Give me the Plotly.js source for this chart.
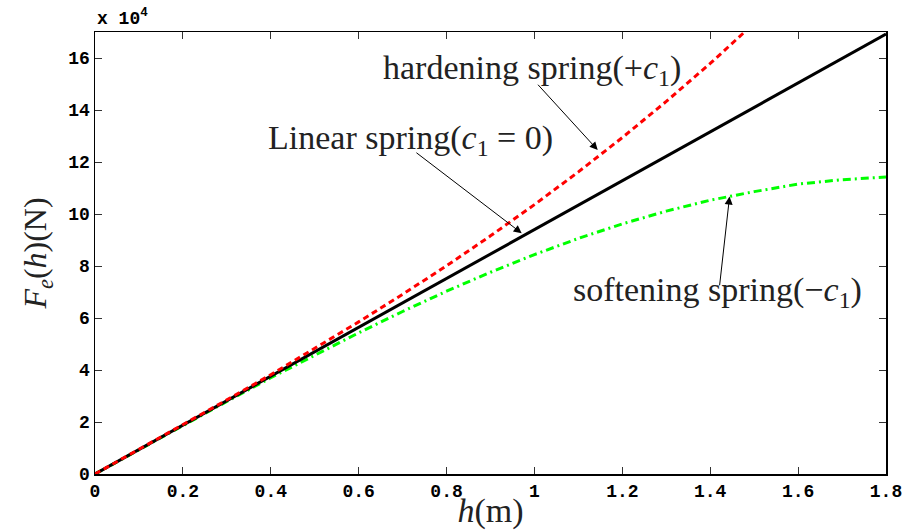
<!DOCTYPE html>
<html>
<head>
<meta charset="utf-8">
<script src="https://cdn.plot.ly/plotly-3.0.1.min.js"></script>
<style>html,body{margin:0;padding:0;background:#fff;}#chart{width:903px;height:530px;}</style>
</head>
<body>
<div id="chart"></div>
<script>
// displacement h (m)
const h = [0, 0.1, 0.2, 0.3, 0.4, 0.5, 0.6, 0.7, 0.8, 0.9, 1.0, 1.1, 1.2, 1.3, 1.4, 1.5, 1.6, 1.7, 1.8];
// force in units of 10^4 N
const linearF = [0, 0.94, 1.88, 2.82, 3.76, 4.70, 5.64, 6.58, 7.52, 8.46, 9.40, 10.34, 11.28, 12.22, 13.16, 14.10, 15.04, 15.98, 16.92];
const hardH = [0, 0.1, 0.2, 0.3, 0.4, 0.5, 0.6, 0.7, 0.8, 0.9, 1.0, 1.1, 1.2, 1.3, 1.4, 1.5];
const hardeningF = [0, 0.94, 1.89, 2.85, 3.82, 4.82, 5.85, 6.91, 8.01, 9.16, 10.36, 11.62, 12.94, 14.33, 15.79, 17.34];
const softeningF = [0, 0.94, 1.87, 2.79, 3.70, 4.58, 5.43, 6.25, 7.03, 7.76, 8.44, 9.06, 9.62, 10.11, 10.53, 10.86, 11.15, 11.32, 11.42];
const xTicks = [0, 0.2, 0.4, 0.6, 0.8, 1, 1.2, 1.4, 1.6, 1.8];
const xTickText = ['0', '0.2', '0.4', '0.6', '0.8', '1', '1.2', '1.4', '1.6', '1.8'];
const yTicks = [0, 2, 4, 6, 8, 10, 12, 14, 16];

const serif = 'Liberation Serif, Times New Roman, serif';
const mono = 'Liberation Mono, Courier New, monospace';

const traces = [
  {x: h, y: softeningF, mode: 'lines', line: {color: '#00ff00', width: 3, dash: '8px,4px,2px,4px'}, hoverinfo: 'skip'},
  {x: h, y: linearF, mode: 'lines', line: {color: '#000000', width: 3}, hoverinfo: 'skip'},
  {x: hardH, y: hardeningF, mode: 'lines', line: {color: '#ff0000', width: 3, dash: '6px,4px'}, hoverinfo: 'skip'}
];

function arrow(x0, y0, x1, y1) {
  return {x: x1, y: y1, ax: x0, ay: y0, xref: 'x', yref: 'y', axref: 'x', ayref: 'y',
    text: '', showarrow: true, arrowhead: 2, arrowsize: 1.6, arrowwidth: 1, arrowcolor: '#000'};
}
function label(x, y, txt) {
  return {x: x, y: y, xref: 'x', yref: 'y', text: txt, showarrow: false,
    font: {family: serif, size: 34, color: '#222'}, xanchor: 'center', yanchor: 'middle'};
}

const layout = {
  width: 903, height: 530,
  margin: {l: 95, r: 17, t: 32, b: 56},
  paper_bgcolor: '#fff', plot_bgcolor: '#fff',
  showlegend: false,
  xaxis: {
    range: [0, 1.8], tickvals: xTicks, ticktext: xTickText,
    ticks: 'inside', ticklen: 7, tickcolor: '#333', mirror: 'ticks',
    showline: true, linecolor: '#000', linewidth: 1.5, showgrid: false, zeroline: false,
    tickfont: {family: mono, size: 18, color: '#000', weight: 'bold'},
    title: {text: '<i>h</i>(m)', font: {family: serif, size: 34, color: '#222'}, standoff: 0}
  },
  yaxis: {
    range: [0, 17], tickvals: yTicks,
    ticks: 'inside', ticklen: 7, tickcolor: '#333', mirror: 'ticks',
    showline: true, linecolor: '#000', linewidth: 1.5, showgrid: false, zeroline: false,
    tickfont: {family: mono, size: 18, color: '#000', weight: 'bold'},
    title: {text: '<i>F<sub>e</sub></i>(<i>h</i>)(N)', font: {family: serif, size: 32, color: '#222'}, standoff: 12}
  },
  annotations: [
    {x: 0, y: 1, xref: 'paper', yref: 'paper', xanchor: 'left', yanchor: 'bottom', yshift: 1,
      text: 'x 10<sup>4</sup>', showarrow: false, font: {family: mono, size: 18, color: '#000', weight: 'bold'}},
    label(0.995, 15.54, 'hardening spring(+<i>c</i><sub>1</sub>)'),
    label(0.717, 12.85, 'Linear spring(<i>c</i><sub>1</sub> = 0)'),
    label(1.416, 7.0, 'softening spring(−<i>c</i><sub>1</sub>)'),
    arrow(1.005, 15.03, 1.144, 12.46),
    arrow(0.728, 12.40, 0.971, 9.26),
    arrow(1.421, 7.20, 1.444, 10.67)
  ]
};

Plotly.newPlot('chart', traces, layout, {staticPlot: true, displayModeBar: false});
</script>
</body>
</html>
